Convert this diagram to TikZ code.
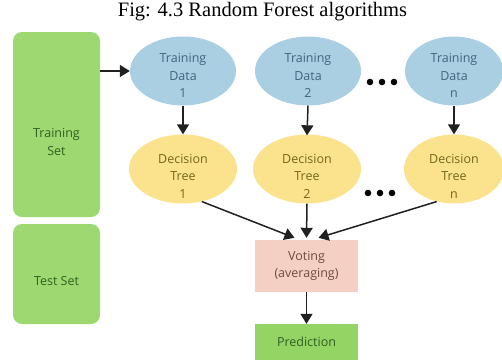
\documentclass[tikz,border=0pt]{standalone}
\usepackage{fontspec}
\setmainfont{Liberation Serif}
\newfontfamily\osans{Open Sans}
\usetikzlibrary{shapes.geometric,arrows.meta,calc}
\definecolor{setgreen}{HTML}{9DD870}
\definecolor{predgreen}{HTML}{93D465}
\definecolor{datablue}{HTML}{AACFE3}
\definecolor{treeyellow}{HTML}{FBE38D}
\definecolor{votepink}{HTML}{F3D0C3}
\definecolor{datatext}{HTML}{3F6580}
\definecolor{treetext}{HTML}{76661A}
\definecolor{settext}{HTML}{325F22}
\definecolor{votetext}{HTML}{704A3E}
\definecolor{linegray}{HTML}{202020}
\tikzset{
  every node/.style={inner sep=0pt},
  txt/.style={font=\osans\fontsize{12.5}{17.5}\selectfont, align=center},
  setbox/.style={fill=setgreen, rounded corners=9pt, minimum width=87pt},
  dataell/.style={ellipse, fill=datablue, minimum width=106pt, minimum height=69pt},
  treeell/.style={ellipse, fill=treeyellow, minimum width=108pt, minimum height=69pt},
  votebox/.style={fill=votepink, minimum width=103pt, minimum height=52pt},
  predbox/.style={fill=predgreen, minimum width=103pt, minimum height=36pt},
  conn/.style={draw=linegray, line width=1.5pt, -{Triangle[length=10pt,width=12pt]}},
  dot/.style={fill=black}
}
\begin{document}
\begin{tikzpicture}[x=1pt,y=-1pt]
\useasboundingbox (0,0) rectangle (502,359);
% title
\node[font=\fontsize{20.5}{24}\selectfont] (title) at (262.5,12) {Fig: 4.3 Random Forest algorithms};
% left boxes
\node[setbox, minimum height=185pt] (trainset) at (56.5,124.5) {};
\node[txt, text=settext] (trainsett) at (56.5,142) {Training\\Set};
\node[setbox, minimum height=100pt] (testset) at (56.5,274) {};
\node[txt, text=settext] (testsett) at (56.5,281) {Test Set};
% training data
\node[dataell] (data1) at (183,71) {};
\node[txt, text=datatext] (data1t) at (183,75.5) {Training\\Data\\1};
\node[dataell] (data2) at (308,71) {};
\node[txt, text=datatext] (data2t) at (308,75.5) {Training\\Data\\2};
\node[dataell, minimum width=98pt] (datan) at (454,71) {};
\node[txt, text=datatext] (datant) at (454,75.5) {Training\\Data\\n};
% trees
\node[treeell] (tree1) at (183,169) {};
\node[txt, text=treetext] (tree1t) at (183,176) {Decision\\Tree\\1};
\node[treeell] (tree2) at (307,169) {};
\node[txt, text=treetext] (tree2t) at (307,176) {Decision\\Tree\\2};
\node[treeell, minimum width=100pt] (treen) at (454,169) {};
\node[txt, text=treetext] (treent) at (454,176) {Decision\\Tree\\n};
% voting & prediction
\node[votebox] (vote) at (306.5,266) {};
\node[txt, text=votetext] (votet) at (306.5,266) {Voting\\(averaging)};
\node[predbox] (pred) at (306.5,342) {};
\node[txt, text=settext] (predt) at (306.5,342) {Prediction};
% dots
\foreach \x in {370,382,394} \fill[dot] (\x,82) circle (3.3pt);
\foreach \x in {368,380,392} \fill[dot] (\x,193) circle (3.3pt);
% connectors
\draw[conn] (trainset.east |- data1.west) -- (data1.west);
\draw[conn] (data1.south) -- (tree1.north);
\draw[conn] (data2.south) -- ([yshift=-1pt]tree2.north);
\draw[conn] (datan.south) -- (treen.north);
\draw[conn] (tree1.-60) -- ([xshift=-12pt,yshift=2pt]vote.north);
\draw[conn] (tree2.south) -- ([yshift=2pt]vote.north);
\draw[conn] (treen.-118) -- ([xshift=12pt,yshift=2pt]vote.north);
\draw[conn] (vote.south) -- (pred.north);
\end{tikzpicture}
\end{document}
